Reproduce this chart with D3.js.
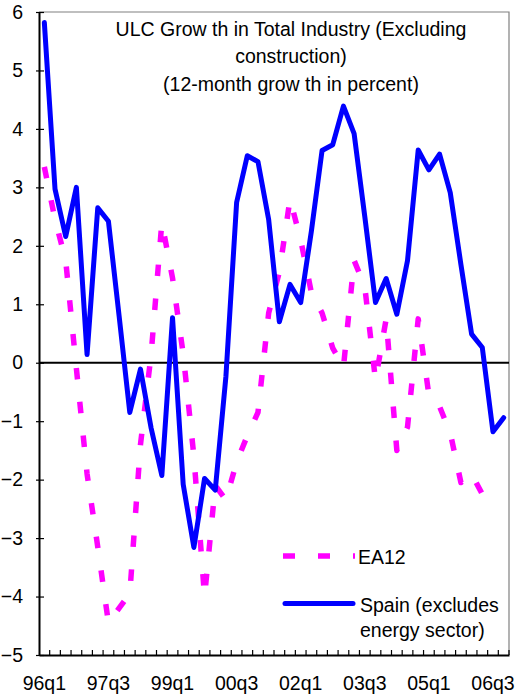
<!DOCTYPE html>
<html>
<head>
<meta charset="utf-8">
<script src="https://cdn.jsdelivr.net/npm/d3@7"></script>
<style>
  body { margin: 0; background: #fff; }
  svg { display: block; }
  text { font-family: "Liberation Sans", Arial, sans-serif; fill: #000; }
</style>
</head>
<body>
<svg id="chart" width="516" height="700"></svg>
<script>
// Quarterly categories, 1996q1 .. 2006q4
const quarters = [
  "96q1","96q2","96q3","96q4","97q1","97q2","97q3","97q4",
  "98q1","98q2","98q3","98q4","99q1","99q2","99q3","99q4",
  "00q1","00q2","00q3","00q4","01q1","01q2","01q3","01q4",
  "02q1","02q2","02q3","02q4","03q1","03q2","03q3","03q4",
  "04q1","04q2","04q3","04q4","05q1","05q2","05q3","05q4",
  "06q1","06q2","06q3","06q4"
];

// ULC growth, 12-month, percent
const spainValues = [
  5.82, 2.97, 2.16, 3.00, 0.14, 2.65, 2.42, 0.80,
  -0.85, -0.11, -1.12, -1.93, 0.77, -2.08, -3.16, -1.98,
  -2.18, -0.23, 2.74, 3.54, 3.44, 2.45, 0.70, 1.34,
  1.03, 2.25, 3.63, 3.73, 4.39, 3.92, 2.50, 1.03,
  1.44, 0.83, 1.75, 3.64, 3.30, 3.57, 2.91, 1.68,
  0.49, 0.26, -1.18, -0.94
];

const ea12Values = [
  3.35, 2.45, 1.75, -0.10, -1.90, -3.15, -4.45, -4.20,
  -3.95, -1.40, 0.15, 2.40, 1.45, 0.15, -1.60, -4.00,
  -2.10, -2.35, -1.70, -1.25, -0.85, 0.85, 1.55, 2.80,
  2.10, 1.20, 0.85, 0.25, -0.08, 1.75, 1.30, -0.30,
  0.75, -1.50, -1.10, 0.75, -0.55, -0.75, -1.20, -2.05,
  -1.90, -2.25, -2.45
];

const yTickValues = [-5, -4, -3, -2, -1, 0, 1, 2, 3, 4, 5, 6];
const xLabelQuarters = ["96q1","97q3","99q1","00q3","02q1","03q3","05q1","06q3"];

const titleLines = [
  "ULC Grow th in Total Industry (Excluding",
  "construction)",
  "(12-month grow th in percent)"
];

const seriesNames = { ea12: "EA12", spain: ["Spain (excludes", "energy sector)"] };

// ---- layout ----
const plot = { left: 39, right: 509, top: 12, bottom: 655 };
const fontSize = 19.5;

const svg = d3.select("#chart");

const x = d3.scaleBand().domain(quarters).range([plot.left, plot.right]).padding(0);
const y = d3.scaleLinear().domain([-5, 6]).range([plot.bottom, plot.top]);
const cx = q => x(q) + x.bandwidth() / 2;

// plot frame (top and right edges)
svg.append("path")
  .attr("d", `M${plot.left},${plot.top}H${plot.right}V${plot.bottom}`)
  .attr("fill", "none")
  .attr("stroke", "#808080")
  .attr("stroke-width", 1.2);

// zero line
svg.append("line")
  .attr("x1", plot.left).attr("x2", plot.right)
  .attr("y1", y(0)).attr("y2", y(0))
  .attr("stroke", "#000").attr("stroke-width", 2);

// y axis
const yAxis = svg.append("g")
  .attr("transform", `translate(${plot.left},0)`)
  .call(d3.axisLeft(y).tickValues(yTickValues).tickSizeInner(3).tickSizeOuter(0).tickPadding(13).tickFormat(d3.format("d")));
yAxis.select(".domain").attr("stroke", "#000").attr("stroke-width", 2);
yAxis.selectAll(".tick line").attr("stroke", "#000").attr("stroke-width", 1.2).attr("x2", -3).attr("x1", 5);
yAxis.selectAll(".tick text").attr("font-size", fontSize).attr("font-family", "Liberation Sans, Arial, sans-serif");

// x axis: labels every sixth quarter, tick marks on category boundaries
const xAxis = svg.append("g")
  .attr("transform", `translate(0,${plot.bottom})`)
  .call(d3.axisBottom(x).tickValues(xLabelQuarters).tickSize(0).tickPadding(21));
xAxis.select(".domain").attr("stroke", "#000").attr("stroke-width", 2);
xAxis.selectAll(".tick text").attr("font-size", fontSize).attr("font-family", "Liberation Sans, Arial, sans-serif");

const boundaries = quarters.slice(1).map(q => x(q)).concat([plot.right]);
svg.append("g").selectAll("line")
  .data(boundaries)
  .join("line")
  .attr("x1", d => d).attr("x2", d => d)
  .attr("y1", plot.bottom).attr("y2", plot.bottom - 5)
  .attr("stroke", "#000").attr("stroke-width", 1.2);

// series
const line = d3.line()
  .x((d, i) => cx(quarters[i]))
  .y(d => y(d));

const eaStyle = { color: "#FF00FF", width: 5.5, dash: "11.5,22.5" };
const spStyle = { color: "#0000FF", width: 5 };

svg.append("path")
  .datum(ea12Values)
  .attr("d", line)
  .attr("fill", "none")
  .attr("stroke", eaStyle.color)
  .attr("stroke-width", eaStyle.width)
  .attr("stroke-dasharray", eaStyle.dash)
  .attr("stroke-linejoin", "round");

svg.append("path")
  .datum(spainValues)
  .attr("d", line)
  .attr("fill", "none")
  .attr("stroke", spStyle.color)
  .attr("stroke-width", spStyle.width)
  .attr("stroke-linejoin", "round")
  .attr("stroke-linecap", "round");

// title
svg.append("g").selectAll("text")
  .data(titleLines)
  .join("text")
  .attr("x", 291)
  .attr("y", (d, i) => 36 + i * 27.4)
  .attr("text-anchor", "middle")
  .attr("font-size", fontSize)
  .text(d => d);

// legend
const legend = svg.append("g");
legend.append("line")
  .attr("x1", 283).attr("x2", 355).attr("y1", 556).attr("y2", 556)
  .attr("stroke", eaStyle.color).attr("stroke-width", eaStyle.width)
  .attr("stroke-dasharray", "12,23");
legend.append("text")
  .attr("x", 358).attr("y", 563.5)
  .attr("font-size", fontSize)
  .text(seriesNames.ea12);

legend.append("line")
  .attr("x1", 285).attr("x2", 353).attr("y1", 603.5).attr("y2", 603.5)
  .attr("stroke", spStyle.color).attr("stroke-width", spStyle.width)
  .attr("stroke-linecap", "round");
legend.append("g").selectAll("text")
  .data(seriesNames.spain)
  .join("text")
  .attr("x", 360)
  .attr("y", (d, i) => 611.5 + i * 25)
  .attr("font-size", fontSize)
  .text(d => d);
</script>
</body>
</html>
